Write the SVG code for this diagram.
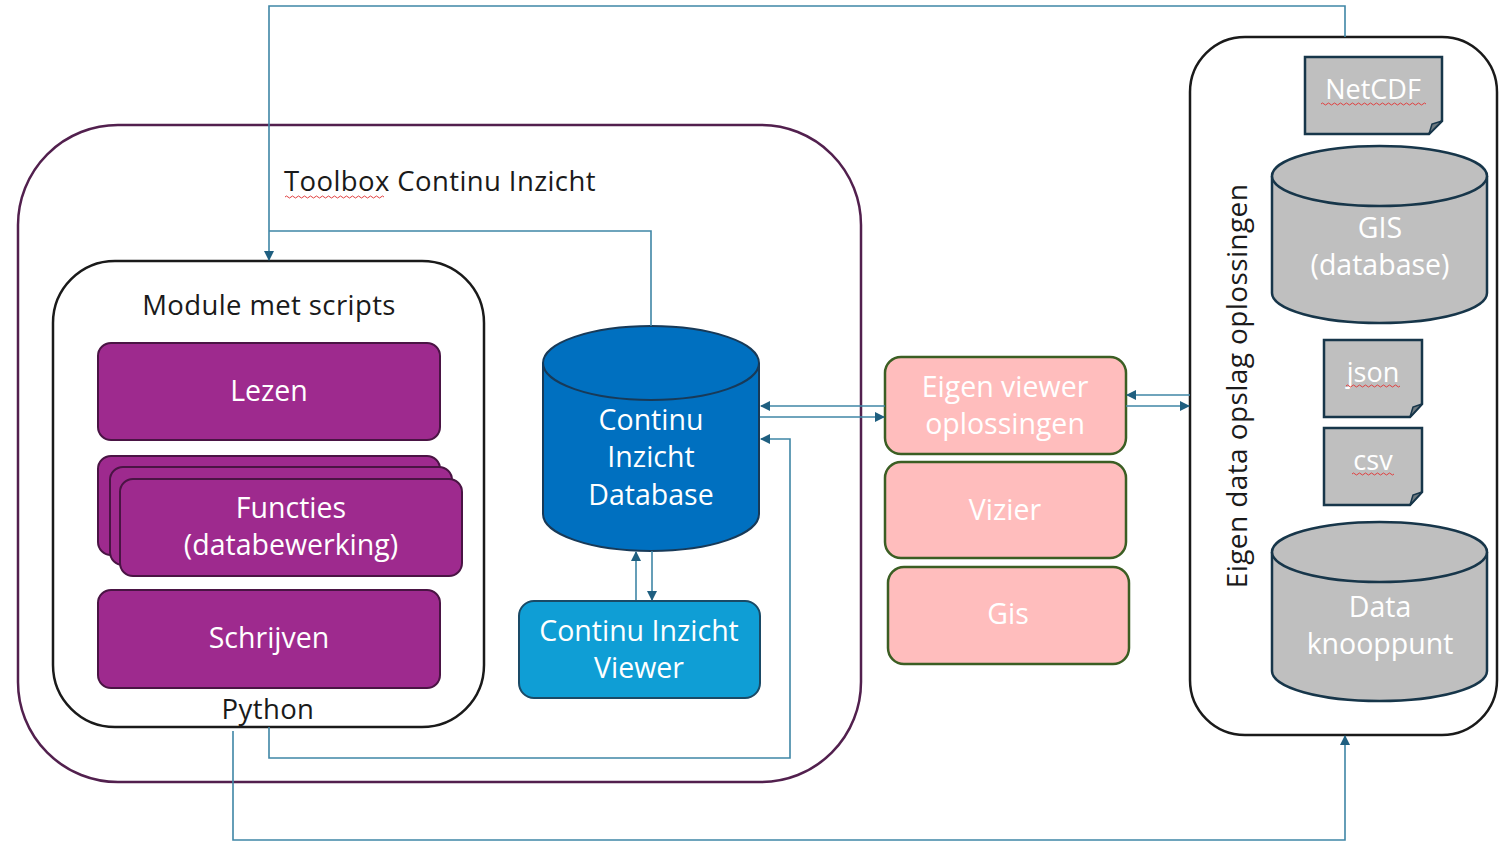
<svg xmlns="http://www.w3.org/2000/svg" width="1499" height="842" viewBox="0 0 1499 842">
<defs>
<style>
.t{font-family:"Open Sans","Noto Sans","Liberation Sans",sans-serif;}
.dark{fill:#1a1a1a;font-size:27.5px;letter-spacing:0.4px;}
.w{fill:#ffffff;font-size:28.5px;text-anchor:middle;}
.purp{fill:#9e2a8e;stroke:#4a1444;stroke-width:2;}
.pink{fill:#ffbdbd;stroke:#3b5e23;stroke-width:2.5;}
.grey{fill:#bfbfbf;stroke:#17364a;stroke-width:2.5;}
.con{fill:none;stroke:#3f86a6;stroke-width:1.6;}
.sq{fill:none;stroke:#e04040;stroke-width:1;}
</style>
<marker id="ah" viewBox="0 0 10 10" refX="9" refY="5" markerWidth="11" markerHeight="10" orient="auto" markerUnits="userSpaceOnUse">
<path d="M0,0 L10,5 L0,10 z" fill="#1f5f80"/>
</marker>
</defs>
<rect width="1499" height="842" fill="#ffffff"/>

<g id="toolbox">
<rect x="18" y="125" width="843" height="657" rx="100" fill="none" stroke="#52204e" stroke-width="2.5"/>
<text class="t dark" x="284" y="191">Toolbox Continu Inzicht</text>
<path class="sq" d="M285,197 q1.5,-2 3,0 t3,0 t3,0 t3,0 t3,0 t3,0 t3,0 t3,0 t3,0 t3,0 t3,0 t3,0 t3,0 t3,0 t3,0 t3,0 t3,0 t3,0 t3,0 t3,0 t3,0 t3,0 t3,0 t3,0 t3,0 t3,0 t3,0 t3,0 t3,0 t3,0 t3,0 t3,0 t3,0"/>
</g>

<g id="module">
<rect x="53" y="261" width="431" height="466" rx="62" fill="#ffffff" stroke="#1a1a1a" stroke-width="2.5"/>
<text class="t dark" x="269" y="315" text-anchor="middle">Module met scripts</text>
<text class="t dark" x="268" y="719" text-anchor="middle">Python</text>
</g>

<g id="lezen">
<rect class="purp" x="98" y="343" width="342" height="97" rx="13"/>
<text class="t w" x="269" y="401">Lezen</text>
</g>

<g id="functies">
<rect class="purp" x="98" y="456" width="342" height="99" rx="13"/>
<rect class="purp" x="110" y="467" width="342" height="98" rx="13"/>
<rect class="purp" x="120" y="479" width="342" height="97" rx="13"/>
<text class="t w" x="291" y="518">Functies</text>
<text class="t w" x="291" y="555">(databewerking)</text>
</g>

<g id="schrijven">
<rect class="purp" x="98" y="590" width="342" height="98" rx="13"/>
<text class="t w" x="269" y="648">Schrijven</text>
</g>

<g id="database">
<path d="M543,363 V514 A108,37 0 0 0 759,514 V363" fill="#0070c0" stroke="#183a58" stroke-width="2"/>
<ellipse cx="651" cy="363" rx="108" ry="37" fill="#0070c0" stroke="#183a58" stroke-width="2"/>
<text class="t w" x="651" y="430">Continu</text>
<text class="t w" x="651" y="467">Inzicht</text>
<text class="t w" x="651" y="505">Database</text>
</g>

<g id="viewer">
<rect x="519" y="601" width="241" height="97" rx="15" fill="#0f9ed5" stroke="#1a4a66" stroke-width="2"/>
<text class="t w" x="639" y="641">Continu Inzicht</text>
<text class="t w" x="639" y="678">Viewer</text>
</g>

<g id="eigenviewer">
<rect class="pink" x="885" y="357" width="241" height="97" rx="16"/>
<text class="t w" x="1005" y="397">Eigen viewer</text>
<text class="t w" x="1005" y="434">oplossingen</text>
</g>

<g id="vizier">
<rect class="pink" x="885" y="462" width="241" height="96" rx="16"/>
<text class="t w" x="1005" y="520">Vizier</text>
</g>

<g id="gis">
<rect class="pink" x="888" y="567" width="241" height="97" rx="16"/>
<text class="t w" x="1008" y="624">Gis</text>
</g>

<g id="eigendata">
<rect x="1190" y="37" width="307" height="698" rx="55" fill="#ffffff" stroke="#1a1a1a" stroke-width="2.5"/>
<text class="t dark" transform="translate(1247,386) rotate(-90)" text-anchor="middle" style="font-size:28px;letter-spacing:0.4px">Eigen data opslag oplossingen</text>
</g>

<g id="netcdf">
<path class="grey" d="M1305,57 H1442 V121 L1429,134 H1305 Z"/>
<path d="M1429,134 L1432,124 L1442,121 Z" fill="#6f7a80" stroke="#17364a" stroke-width="1.5"/>
<text class="t w" x="1373" y="99" style="font-size:27px">NetCDF</text>
<path class="sq" d="M1321,104 q1.5,-2 3,0 t3,0 t3,0 t3,0 t3,0 t3,0 t3,0 t3,0 t3,0 t3,0 t3,0 t3,0 t3,0 t3,0 t3,0 t3,0 t3,0 t3,0 t3,0 t3,0 t3,0 t3,0 t3,0 t3,0 t3,0 t3,0 t3,0 t3,0 t3,0 t3,0 t3,0 t3,0 t3,0 t3,0 t3,0"/>
</g>

<g id="gisdb">
<path class="grey" d="M1272,176 V293 A107.5,30 0 0 0 1487,293 V176"/>
<ellipse class="grey" cx="1379.5" cy="176" rx="107.5" ry="30"/>
<text class="t w" x="1380" y="238">GIS</text>
<text class="t w" x="1380" y="275">(database)</text>
</g>

<g id="json">
<path class="grey" d="M1324,340 H1422 V404 L1410,417 H1324 Z"/>
<path d="M1410,417 L1413,407 L1422,404 Z" fill="#6f7a80" stroke="#17364a" stroke-width="1.5"/>
<text class="t w" x="1373" y="382" style="font-size:27px">json</text>
<path class="sq" d="M1346,386 q1.5,-2 3,0 t3,0 t3,0 t3,0 t3,0 t3,0 t3,0 t3,0 t3,0 t3,0 t3,0 t3,0 t3,0 t3,0 t3,0 t3,0 t3,0 t3,0"/>
</g>

<g id="csv">
<path class="grey" d="M1324,428 H1422 V492 L1410,505 H1324 Z"/>
<path d="M1410,505 L1413,495 L1422,492 Z" fill="#6f7a80" stroke="#17364a" stroke-width="1.5"/>
<text class="t w" x="1373" y="470" style="font-size:27px">csv</text>
<path class="sq" d="M1352,474 q1.5,-2 3,0 t3,0 t3,0 t3,0 t3,0 t3,0 t3,0 t3,0 t3,0 t3,0 t3,0 t3,0 t3,0 t3,0"/>
</g>

<g id="knooppunt">
<path class="grey" d="M1272,552 V671 A107.5,30 0 0 0 1487,671 V552"/>
<ellipse class="grey" cx="1379.5" cy="552" rx="107.5" ry="30"/>
<text class="t w" x="1380" y="617">Data</text>
<text class="t w" x="1380" y="654">knooppunt</text>
</g>

<g id="connectors">
<path class="con" d="M1345,37 V6 H269 V260" marker-end="url(#ah)"/>
<path class="con" d="M651,326 V231 H269"/>
<path class="con" d="M269,727 V758 H790 V439 H761" marker-end="url(#ah)"/>
<path class="con" d="M233,731 V840 H1345 V736" marker-end="url(#ah)"/>
<path class="con" d="M885,406 H761" marker-end="url(#ah)"/>
<path class="con" d="M760,417 H884" marker-end="url(#ah)"/>
<path class="con" d="M1190,395 H1127" marker-end="url(#ah)"/>
<path class="con" d="M1126,406 H1189" marker-end="url(#ah)"/>
<path class="con" d="M636,600 V552" marker-end="url(#ah)"/>
<path class="con" d="M652,551 V600" marker-end="url(#ah)"/>
</g>
</svg>
